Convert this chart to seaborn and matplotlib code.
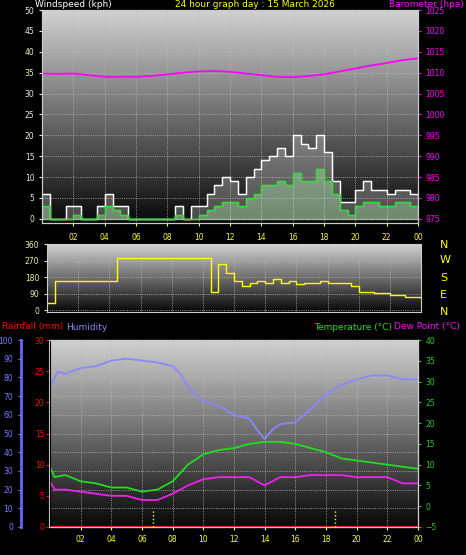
import numpy as np
import pandas as pd
import matplotlib
matplotlib.use('Agg')
import matplotlib.pyplot as plt
import seaborn as sns

# half-hour samples, 0..24 h
hours_half = np.arange(0, 24.5, 0.5)
gust = [6, 0, 0, 3, 3, 0, 0, 3, 6, 3, 3, 0, 0, 0, 0, 0, 0, 3, 0, 3, 3, 6, 8, 10, 9,
        6, 10, 12, 14, 15, 17, 15, 20, 18, 17, 20, 16, 9, 4, 4, 7, 9, 7, 7, 6, 7, 7, 6, 5]
wind_avg = [3, 0, 0, 0, 1, 0, 0, 1, 3, 2, 1, 0, 0, 0, 0, 0, 0, 1, 0, 0, 1, 2, 3, 4, 4,
            3, 5, 6, 8, 8, 9, 8, 11, 9, 9, 12, 9, 6, 2, 1, 3, 4, 4, 3, 3, 4, 4, 3, 3]
wind_dir = [40, 160, 160, 160, 160, 160, 160, 160, 160, 285, 285, 285, 285, 285, 285, 285,
            285, 285, 285, 285, 285, 100, 250, 200, 160, 130, 150, 160, 150, 170, 150, 160,
            140, 150, 150, 160, 150, 150, 150, 130, 100, 100, 95, 95, 85, 80, 70, 70, 65]

hours = np.arange(0, 25)
baro = [1009.8, 1009.7, 1009.8, 1009.4, 1009.0, 1009.0, 1009.0, 1009.2, 1009.6, 1010.0,
        1010.3, 1010.4, 1010.2, 1009.8, 1009.4, 1009.0, 1008.9, 1009.2, 1009.6, 1010.3,
        1011.0, 1011.7, 1012.3, 1013.0, 1013.4]

th = [0, 0.5, 1, 2, 3, 4, 5, 6, 7, 8, 8.5, 9, 10, 11, 12, 13, 13.5, 14, 14.5, 15, 16, 17,
      18, 19, 20, 21, 22, 23, 24]
humidity = [75, 83, 82, 85, 86, 89, 90, 89, 88, 86, 82, 75, 67, 65, 60, 58, 52, 47, 52, 55,
            56, 63, 71, 76, 79, 81, 81, 79, 79]
tt = [0, 0.3, 1, 2, 3, 4, 5, 6, 7, 8, 9, 10, 11, 12, 13, 14, 14.5, 15, 16, 17, 18, 19, 20,
      21, 22, 23, 24]
temperature = [9.5, 7, 7.5, 6, 5.5, 4.5, 4.5, 3.5, 4, 6, 10, 12.5, 13.5, 14, 15, 15.5, 15.5,
               15.5, 15, 14, 13, 11.5, 11, 10.5, 10, 9.5, 9]
dewpoint = [6, 4, 4, 3.5, 3, 2.5, 2.5, 1.5, 1.5, 3, 5, 6.5, 7, 7, 7, 5, 6, 7, 7, 7.5, 7.5,
            7.5, 7, 7, 7, 5.5, 5.5]
rain_hours = [0, 24]
rainfall = [0, 0]
sun_marks = [6.7, 18.6]

xticks = list(range(2, 25, 2))
xlabels = ['%02d' % (h % 24) for h in xticks]

W, H = 466, 555
fig = plt.figure(figsize=(W / 100, H / 100), dpi=100, facecolor='black')
plt.rcParams['font.family'] = ['DejaVu Sans']
fs = 5.5


def rect(x0, y0, x1, y1):
    return [x0 / W, 1 - y1 / H, (x1 - x0) / W, (y1 - y0) / H]


def base(ax):
    ax.set_facecolor('black')
    grad = np.linspace(0.82, 0.03, 256)[:, None]
    ax.imshow(grad, cmap='gray', vmin=0, vmax=1, extent=[0, 1, 0, 1],
              transform=ax.transAxes, aspect='auto', zorder=0)
    ax.set_xlim(0, 24)
    ax.set_xticks(xticks)
    ax.set_xticklabels(xlabels)
    ax.grid(True, color='#bbbbbb', linestyle=':', linewidth=0.6)
    for s in ax.spines.values():
        s.set_color('#cccccc')
    ax.tick_params(labelsize=fs, length=2)


# top: wind + barometer
ax1 = fig.add_axes(rect(42, 10, 418, 223))
base(ax1)
ax1.set_ylim(-1, 50)
ax1.set_yticks(range(0, 51, 5))
ax1.tick_params(axis='y', colors='#eeeecc')
ax1.tick_params(axis='x', colors='yellow', pad=5)
ax1.fill_between(hours_half, 0, gust, step='post', color='#dddddd', alpha=0.3, zorder=2)
ax1.step(hours_half, gust, where='post', color='white', lw=1, zorder=3)
ax1.fill_between(hours_half, 0, wind_avg, step='post', color='#bbffbb', alpha=0.35, zorder=4)
ax1.step(hours_half, wind_avg, where='post', color='#33dd33', lw=1, zorder=5)
axb = ax1.twinx()
axb.set_ylim(974, 1025)
axb.set_yticks(range(975, 1026, 5))
axb.tick_params(axis='y', colors='magenta', labelsize=fs, length=2)
sns.lineplot(x=hours, y=baro, ax=axb, color='magenta', lw=1.3)
for s in axb.spines.values():
    s.set_color('#cccccc')

fig.text(35 / W, 1 - 0 / H, 'Windspeed (kph)', color='white', fontsize=6.5, va='top')
fig.text(255 / W, 1 - 0 / H, '24 hour graph day : 15 March 2026', color='yellow',
         fontsize=6.5, va='top', ha='center')
fig.text(464 / W, 1 - 0 / H, 'Barometer (hpa)', color='magenta', fontsize=6.5, va='top',
         ha='right')

# middle: wind direction
ax2 = fig.add_axes(rect(47, 244, 421, 312))
base(ax2)
ax2.set_ylim(-10, 360)
ax2.set_yticks([0, 90, 180, 270, 360])
ax2.tick_params(axis='y', colors='#eeee99')
ax2.tick_params(axis='x', bottom=False, labelbottom=False)
ax2.step(hours_half, wind_dir, where='post', color='yellow', lw=1)
for lab, yy in zip(['N', 'W', 'S', 'E', 'N'], [245, 260, 278, 295, 312]):
    fig.text(440 / W, 1 - yy / H, lab, color='yellow', fontsize=8, va='center')

# bottom: humidity, rain, temperature, dew point
ax3 = fig.add_axes(rect(50, 340, 418, 527))
base(ax3)
ax3.set_ylim(0, 100)
ax3.set_yticks(range(0, 101, 10))
ax3.tick_params(axis='y', colors='#7777ff')
ax3.tick_params(axis='x', colors='yellow')
ax3.spines['left'].set_position(('outward', 21))
ax3.spines['left'].set_color('#6666ff')
ax3.spines['left'].set_linewidth(2)
sns.lineplot(x=th, y=humidity, ax=ax3, color='#8888ff', lw=1.3)

axr = ax3.twinx()
axr.set_ylim(0, 30)
axr.set_yticks(range(0, 31, 5))
axr.yaxis.tick_left()
axr.spines['left'].set_position(('outward', 1))
axr.spines['left'].set_color('#cccccc')
axr.tick_params(axis='y', colors='red', labelsize=fs, length=2, pad=1)
axr.plot(rain_hours, rainfall, color='red', lw=2.5)

axt = ax3.twinx()
axt.set_ylim(-5, 40)
axt.set_yticks(range(-5, 41, 5))
axt.tick_params(axis='y', colors='#22cc22', labelsize=fs, length=2)
sns.lineplot(x=tt, y=temperature, ax=axt, color='#22dd22', lw=1.3)
sns.lineplot(x=tt, y=dewpoint, ax=axt, color='#ee22ee', lw=1.3)
for sx in sun_marks:
    axt.vlines(sx, -5, -1, color='yellow', linestyle=':', lw=1)
for a in (axr, axt):
    for s in ['top', 'right', 'bottom']:
        a.spines[s].set_color('#cccccc')
ax3.set_xlim(0, 24)
for a in (ax1, axb, ax2, ax3, axr, axt):
    a.set_xlabel('')
    a.set_ylabel('')

fig.text(2 / W, 1 - 327 / H, 'Rainfall (mm)', color='red', fontsize=6.5, va='center')
fig.text(66 / W, 1 - 327 / H, 'Humidity', color='#8888ff', fontsize=6.5, va='center')
fig.text(394 / W, 1 - 327 / H, 'Dew Point (°C)', color='magenta', fontsize=6.5,
         va='center')
fig.text(392 / W, 1 - 327 / H, 'Temperature (°C)', color='#22dd22', fontsize=6.5,
         va='center', ha='right')

fig.savefig('out.png', dpi=100, facecolor='black')
